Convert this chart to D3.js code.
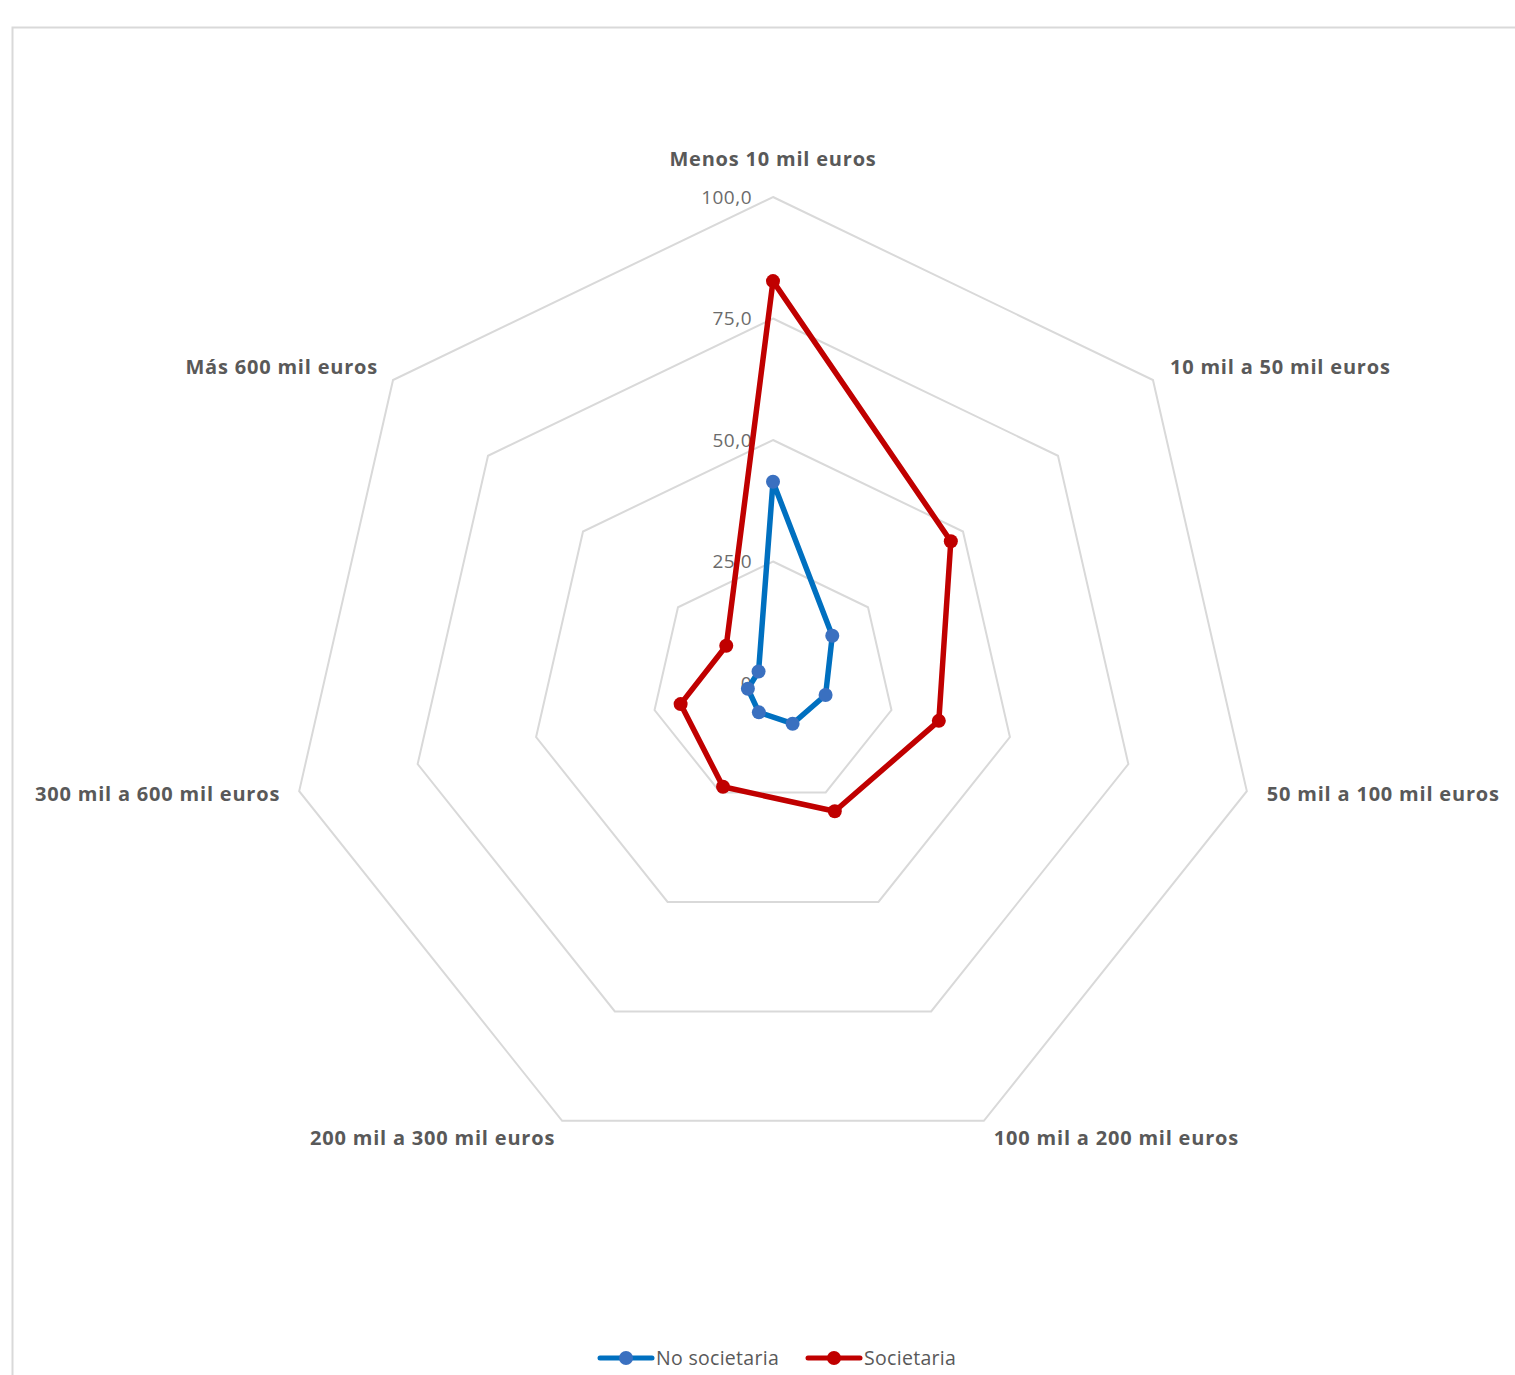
<!DOCTYPE html>
<html>
<head>
<meta charset="utf-8">
<script src="https://cdnjs.cloudflare.com/ajax/libs/d3/7.8.5/d3.min.js"></script>
<style>
	body { margin: 0; background: #fff; }
	#radar-container { width: 1515px; height: 1375px; }
	.grid { fill: none; stroke: #d9d9d9; stroke-width: 2; }
	.tick-label { font-family: "Open Sans", sans-serif; font-size: 19px; letter-spacing: 0.5px; fill: #6b6b6b; }
	.cat-label { font-family: "Open Sans", sans-serif; font-size: 20px; letter-spacing: 0.8px; font-weight: bold; fill: #595959; }
	.legend-label { font-family: "Open Sans", sans-serif; font-size: 19.5px; letter-spacing: 0.3px; fill: #595959; }
	.line { fill: none; stroke-width: 5.5; stroke-linejoin: round; }
</style>
</head>
<body>
<div id="radar-container"></div>
<script>
// categories and series
var categories = ["Menos 10 mil euros", "10 mil a 50 mil euros", "50 mil a 100 mil euros",
	"100 mil a 200 mil euros", "200 mil a 300 mil euros", "300 mil a 600 mil euros", "Más 600 mil euros"];

var noSocietaria = [41.4, 15.6, 11.1, 9.3, 6.7, 5.3, 3.8];
var societaria = [82.7, 46.8, 35.0, 29.3, 23.7, 19.5, 12.3];

var tickValues = [0, 25, 50, 75, 100];
var tickLabels = ["0", "25,0", "50,0", "75,0", "100,0"];

var seriesNames = ["No societaria", "Societaria"];
var lineColors = ["#0070c0", "#c00000"];
var markerColors = ["#3a70c0", "#c00000"];

var fullWidth = 1515,
	fullHeight = 1375,
	center = {x: 773, y: 683},
	radius = 486;

var container = d3.select("#radar-container");

var svg = container.append("svg")
	.attr("width", fullWidth)
	.attr("height", fullHeight);

// chart area border (runs off the right and bottom edges)
svg.append("rect")
	.attr("x", 12.5)
	.attr("y", 27.5)
	.attr("width", fullWidth + 20)
	.attr("height", fullHeight + 20)
	.attr("fill", "#fff")
	.attr("stroke", "#d9d9d9")
	.attr("stroke-width", 2);

var rScale = d3.scaleLinear()
	.domain([0, 100])
	.range([0, radius]);

var angle = function(i) { return i * 2 * Math.PI / categories.length; };

var radial = d3.lineRadial()
	.angle(function(d, i) { return angle(i); })
	.radius(function(d) { return rScale(d); })
	.curve(d3.curveLinearClosed);

var chart = svg.append("g")
	.attr("transform", "translate(" + center.x + "," + center.y + ")");

// grid rings
chart.selectAll(".grid")
	.data(tickValues.slice(1))
	.enter().append("path")
	.attr("class", "grid")
	.attr("d", function(v) { return radial(categories.map(function() { return v; })); });

// axis tick labels
chart.selectAll(".tick-label")
	.data(tickValues)
	.enter().append("text")
	.attr("class", "tick-label")
	.attr("x", -21)
	.attr("y", function(v) { return -rScale(v); })
	.attr("dy", "0.35em")
	.attr("text-anchor", "end")
	.text(function(v, i) { return tickLabels[i]; });

// category labels
var labelOffset = [
	{dx: 0, dy: -38, anchor: "middle"},
	{dx: 17, dy: -13, anchor: "start"},
	{dx: 20, dy: 3, anchor: "start"},
	{dx: 10, dy: 17, anchor: "start"},
	{dx: -7, dy: 17, anchor: "end"},
	{dx: -19, dy: 3, anchor: "end"},
	{dx: -15, dy: -13, anchor: "end"}
];

chart.selectAll(".cat-label")
	.data(categories)
	.enter().append("text")
	.attr("class", "cat-label")
	.attr("x", function(d, i) { return rScale(100) * Math.sin(angle(i)) + labelOffset[i].dx; })
	.attr("y", function(d, i) { return -rScale(100) * Math.cos(angle(i)) + labelOffset[i].dy; })
	.attr("text-anchor", function(d, i) { return labelOffset[i].anchor; })
	.attr("dy", "0.35em")
	.text(function(d) { return d; });

// series
var data = [noSocietaria, societaria];

var series = chart.selectAll(".series")
	.data(data)
	.enter().append("g")
	.attr("class", "series");

series.append("path")
	.attr("class", "line")
	.attr("d", radial)
	.style("stroke", function(d, i) { return lineColors[i]; });

series.each(function(d, si) {
	d3.select(this).selectAll("circle")
		.data(d)
		.enter().append("circle")
		.attr("cx", function(v, i) { return rScale(v) * Math.sin(angle(i)); })
		.attr("cy", function(v, i) { return -rScale(v) * Math.cos(angle(i)); })
		.attr("r", 7)
		.attr("fill", markerColors[si]);
});

// legend
var legendX = [600, 808],
	legendY = 1358;

var legend = svg.selectAll(".legend")
	.data(seriesNames)
	.enter().append("g")
	.attr("class", "legend")
	.attr("transform", function(d, i) { return "translate(" + legendX[i] + "," + legendY + ")"; });

legend.append("line")
	.attr("x1", 0)
	.attr("x2", 52)
	.attr("stroke", function(d, i) { return lineColors[i]; })
	.attr("stroke-width", 5)
	.attr("stroke-linecap", "round");

legend.append("circle")
	.attr("cx", 26)
	.attr("r", 7)
	.attr("fill", function(d, i) { return markerColors[i]; });

legend.append("text")
	.attr("class", "legend-label")
	.attr("x", 56)
	.attr("dy", "0.35em")
	.text(function(d) { return d; });
</script>
</body>
</html>
